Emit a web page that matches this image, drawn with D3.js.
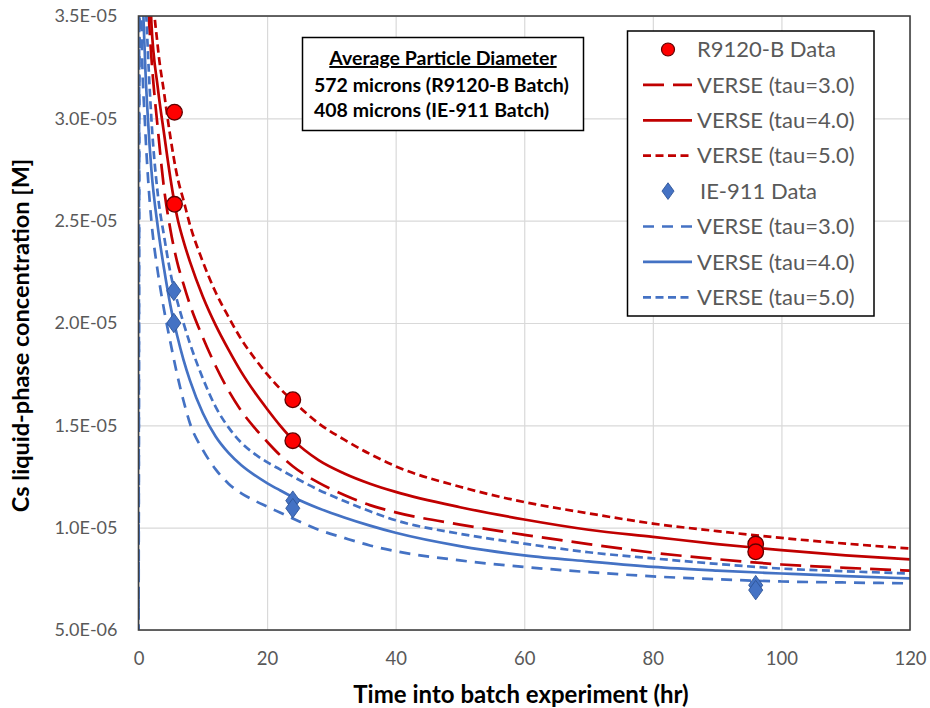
<!DOCTYPE html>
<html><head><meta charset="utf-8">
<script src="https://cdn.jsdelivr.net/npm/d3@7"></script>
<style>
html,body{margin:0;padding:0;background:#fff;}
svg{display:block;font-family:Lato,"Open Sans",sans-serif;}
</style></head>
<body><svg id="c" width="930" height="708"></svg>
<script>
// ---- data (concentrations in units of 1E-05 M) ----
const timeGrid = [0,0.25,0.5,1,1.5,2,3,4,5,6,7,8,10,12,14,16,18,20,22,24,28,32,36,40,50,60,70,80,90,100,110,120];
const redTau3 = [0,6.0,5.0,4.0,3.56,3.3,2.95,2.65,2.45,2.3,2.19,2.09,1.93,1.79,1.67,1.57,1.49,1.42,1.355,1.30,1.22,1.16,1.11,1.075,1.015,0.965,0.92,0.878,0.846,0.82,0.804,0.79];
const redTau4 = [0,7.0,5.8,4.4,3.85,3.47,3.15,2.92,2.7,2.52,2.40,2.30,2.13,1.99,1.87,1.76,1.665,1.58,1.50,1.43,1.33,1.265,1.215,1.175,1.10,1.04,0.99,0.955,0.92,0.89,0.865,0.845];
const redTau5 = [0,8.0,6.5,4.8,4.2,3.75,3.35,3.12,2.9,2.72,2.6,2.48,2.3,2.15,2.03,1.92,1.83,1.75,1.68,1.62,1.51,1.43,1.36,1.30,1.20,1.125,1.07,1.02,0.983,0.95,0.922,0.898];
const blueTau3 = [0,4.2,3.4,2.98,2.7,2.5,2.25,2.06,1.9,1.75,1.62,1.51,1.38,1.285,1.215,1.168,1.133,1.103,1.074,1.045,0.99,0.95,0.913,0.885,0.84,0.808,0.783,0.762,0.748,0.737,0.732,0.728];
const blueTau4 = [0,5.0,3.9,3.3,2.98,2.75,2.47,2.26,2.08,1.94,1.82,1.72,1.56,1.445,1.365,1.305,1.258,1.218,1.183,1.15,1.095,1.05,1.01,0.975,0.91,0.865,0.835,0.808,0.79,0.776,0.763,0.752];
const blueTau5 = [0,6.0,4.4,3.7,3.3,3.0,2.63,2.42,2.24,2.11,2.0,1.9,1.73,1.59,1.49,1.415,1.362,1.32,1.285,1.25,1.185,1.13,1.08,1.036,0.97,0.922,0.88,0.85,0.823,0.80,0.787,0.776];
const r9120Time = [5.6,5.6,24,24,96,96];
const r9120Conc = [3.03,2.58,1.625,1.425,0.92,0.882];
const ie911Time = [5.5,5.5,24,24,96,96];
const ie911Conc = [2.157,2.0,1.132,1.095,0.719,0.695];
const xTicks = [0,20,40,60,80,100,120];
const yTicks = [0.5,1.0,1.5,2.0,2.5,3.0,3.5];
const yTickLabels = ["5.0E-06","1.0E-05","1.5E-05","2.0E-05","2.5E-05","3.0E-05","3.5E-05"];
const legendLabels = ["R9120-B Data","VERSE (tau=3.0)","VERSE (tau=4.0)","VERSE (tau=5.0)","IE-911 Data","VERSE (tau=3.0)","VERSE (tau=4.0)","VERSE (tau=5.0)"];
const noteLines = ["Average Particle Diameter","572 microns (R9120-B Batch)","408 microns (IE-911 Batch)"];

// ---- styles ----
const RED = "#C00000", BLUE = "#4472C4";
const LW = 2.7;
const DASH = {3:"21,9", 4:null, 5:"8,4.5"};
const BDASH = {3:"11,8", 4:null, 5:"8,4.5"};

const svg = d3.select("#c");
const L = 138.5, R = 910, T = 16, B = 630;
const x = d3.scaleLinear().domain([0,120]).range([L,R]);
const y = d3.scaleLinear().domain([0.5,3.5]).range([B,T]);

svg.append("defs").append("clipPath").attr("id","clip")
  .append("rect").attr("x",L).attr("y",T).attr("width",R-L).attr("height",B-T);

// grid
const gx = svg.append("g").attr("transform",`translate(0,${B})`)
  .call(d3.axisBottom(x).tickValues(xTicks).tickSize(-(B-T)).tickFormat(""));
gx.select(".domain").remove();
gx.selectAll("line").attr("stroke","#d9d9d9").attr("stroke-width",1.2);
const gy = svg.append("g").attr("transform",`translate(${L},0)`)
  .call(d3.axisLeft(y).tickValues(yTicks).tickSize(-(R-L)).tickFormat(""));
gy.select(".domain").remove();
gy.selectAll("line").attr("stroke","#d9d9d9").attr("stroke-width",1.2);

// tick labels
const xa = svg.append("g").attr("transform",`translate(0,${B})`)
  .call(d3.axisBottom(x).tickValues(xTicks).tickSize(0).tickPadding(22).tickFormat(d3.format("d")));
xa.select(".domain").remove();
xa.selectAll("text").attr("font-family","Lato").attr("font-size",18.5).attr("fill","#595959");
const ya = svg.append("g").attr("transform",`translate(${L},0)`)
  .call(d3.axisLeft(y).tickValues(yTicks).tickSize(0).tickPadding(21).tickFormat((d,i)=>yTickLabels[i]));
ya.select(".domain").remove();
ya.selectAll("text").attr("font-family","Lato").attr("font-size",18).attr("fill","#595959");

// curves
const line = d3.line().x(d=>x(d[0])).y(d=>y(d[1])).curve(d3.curveMonotoneX);
const curves = [
  {v:redTau3, c:RED, d:DASH[3], s:1},
  {v:redTau4, c:RED, d:DASH[4], s:1},
  {v:redTau5, c:RED, d:DASH[5], s:1},
  {v:blueTau4, c:BLUE, d:BDASH[4], s:1},
  {v:blueTau3, c:BLUE, d:BDASH[3], s:0},
  {v:blueTau5, c:BLUE, d:BDASH[5], s:0},
];
const gc = svg.append("g").attr("clip-path","url(#clip)");
curves.forEach(cv=>{
  const pts = timeGrid.map((t,i)=>[t,cv.v[i]]).slice(cv.s);
  gc.append("path").datum(pts)
    .attr("d",line).attr("fill","none").attr("stroke",cv.c)
    .attr("stroke-width",LW).attr("stroke-dasharray",cv.d);
});

// frame
svg.append("rect").attr("x",L).attr("y",T).attr("width",R-L).attr("height",B-T)
  .attr("fill","none").attr("stroke","#404040").attr("stroke-width",1.6);

// markers
const diamond = d3.symbol().type(d3.symbolDiamond);
svg.append("g").selectAll("path").data(ie911Time.map((t,i)=>[t,ie911Conc[i]])).join("path")
  .attr("d",diamond.size(110)()).attr("transform",d=>`translate(${x(d[0])},${y(d[1])}) scale(1.25,1)`)
  .attr("fill",BLUE).attr("stroke","#2F5597").attr("stroke-width",0.8);
svg.append("g").selectAll("circle").data(r9120Time.map((t,i)=>[t,r9120Conc[i]])).join("circle")
  .attr("cx",d=>x(d[0])).attr("cy",d=>y(d[1])).attr("r",7.8)
  .attr("fill","#FF0000").attr("stroke","#600000").attr("stroke-width",1.3);

// axis titles
svg.append("text").attr("x",521).attr("y",703).attr("text-anchor","middle")
  .attr("font-family","Lato").attr("font-weight","bold").attr("font-size",24).attr("fill","#000")
  .text("Time into batch experiment (hr)");
svg.append("text").attr("transform","translate(29,335.5) rotate(-90)").attr("text-anchor","middle")
  .attr("font-family","Lato").attr("font-weight","bold").attr("font-size",23.5).attr("fill","#000")
  .text("Cs liquid-phase concentration [M]");

// annotation box
svg.append("rect").attr("x",302.5).attr("y",37.5).attr("width",281).attr("height",93)
  .attr("fill","#fff").attr("stroke","#000").attr("stroke-width",1.5);
svg.append("text").attr("x",443).attr("y",65).attr("text-anchor","middle")
  .attr("font-family","Lato").attr("font-weight","bold").attr("font-size",19.5)
  .attr("text-decoration","underline").text(noteLines[0]);
svg.append("text").attr("x",314).attr("y",92).attr("font-family","Lato").attr("font-weight","bold").attr("font-size",19.5).text(noteLines[1]);
svg.append("text").attr("x",314).attr("y",117).attr("font-family","Lato").attr("font-weight","bold").attr("font-size",19.5).text(noteLines[2]);

// legend
const lg = svg.append("g");
lg.append("rect").attr("x",627.5).attr("y",31).attr("width",246.5).attr("height",285)
  .attr("fill","#fff").attr("stroke","#000").attr("stroke-width",1.5);
const legendItems = [
  {type:"circle"},
  {type:"line", c:RED, d:DASH[3]},
  {type:"line", c:RED, d:DASH[4]},
  {type:"line", c:RED, d:DASH[5]},
  {type:"diamond"},
  {type:"line", c:BLUE, d:BDASH[3]},
  {type:"line", c:BLUE, d:BDASH[4]},
  {type:"line", c:BLUE, d:BDASH[5]},
];
legendItems.forEach((it,i)=>{
  const cy = 49.5 + i*35.4;
  if(it.type==="line"){
    lg.append("line").attr("x1",643).attr("x2",692).attr("y1",cy).attr("y2",cy)
      .attr("stroke",it.c).attr("stroke-width",LW).attr("stroke-dasharray",it.d);
  } else if(it.type==="circle"){
    lg.append("circle").attr("cx",668).attr("cy",cy).attr("r",6.5)
      .attr("fill","#FF0000").attr("stroke","#600000").attr("stroke-width",1.2);
  } else {
    lg.append("path").attr("d",diamond.size(80)()).attr("transform",`translate(668,${cy}) scale(1.25,1)`)
      .attr("fill",BLUE).attr("stroke","#2F5597").attr("stroke-width",0.8);
  }
  lg.append("text").attr("x", it.type==="diamond"?700:697).attr("y",cy).attr("dy","0.35em")
    .attr("font-family","Lato").attr("font-size",22).attr("fill","#595959").text(legendLabels[i]);
});
</script></body></html>
